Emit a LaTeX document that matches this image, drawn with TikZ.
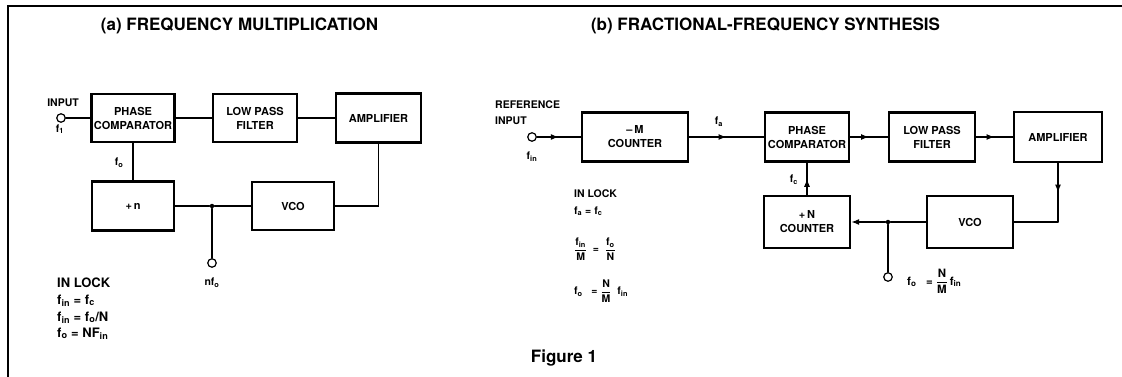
\documentclass[tikz,border=0pt]{standalone}
\usepackage{fontspec}
\setmainfont{TeX Gyre Heros}
\usepackage{amsmath}
\usetikzlibrary{arrows.meta,decorations.markings}
\tikzset{
  blocknode/.style={draw,line width=2.4pt,inner sep=0pt,align=center,font=\fontsize{11}{14}\selectfont\bfseries},
  termnode/.style={circle,draw,fill=white,line width=1.2pt,minimum size=8.5pt,inner sep=0pt},
  dotnode/.style={circle,fill,minimum size=4.5pt,inner sep=0pt},
  labelnode/.style={font=\fontsize{10.5}{16}\selectfont\bfseries,inner sep=0pt},
  locknode/.style={font=\fontsize{13}{16}\selectfont\bfseries,inner sep=0pt,anchor=base west},
  smalllock/.style={font=\fontsize{10.5}{14}\selectfont\bfseries,inner sep=0pt,anchor=base west},
  titlenode/.style={font=\fontsize{17}{20}\selectfont\bfseries,inner sep=0pt},
  wire/.style={line width=1.2pt},
  tip/.style={-{Latex[length=8pt,width=6pt]}},
  midarrow/.style={postaction={decorate},decoration={markings,mark=at position 0.5 with {\arrow{Latex[length=8pt,width=6pt]}}}},
  every picture/.style={line cap=round}
}

\begin{document}
\begin{tikzpicture}[x=1pt,y=-1pt]
  \useasboundingbox (0,0) rectangle (1122,377);
  \draw[line width=1.6pt] (1122,6) -- (8,6) -- (8,377);

  \node[titlenode] (titlea) at (239.5,26) {(a) FREQUENCY MULTIPLICATION};
  \node[blocknode,minimum width=83pt,minimum height=48pt] (pca) at (133,118) {PHASE\\COMPARATOR};
  \node[blocknode,minimum width=84pt,minimum height=48pt] (lpfa) at (255,118) {LOW PASS\\FILTER};
  \node[blocknode,minimum width=85pt,minimum height=49pt] (ampa) at (378.5,118) {AMPLIFIER};
  \node[blocknode,minimum width=82pt,minimum height=49pt] (diva) at (133,206) {+\,n};
  \node[blocknode,minimum width=82pt,minimum height=48pt] (vcoa) at (293,206) {VCO};
  \node[termnode] (ina) at (61,118) {};
  \node[labelnode] (inlabela) at (63,103) {INPUT};
  \node[labelnode] (f1a) at (60,129) {f\textsubscript{1}};
  \node[labelnode] (foa) at (119,163) {f\textsubscript{o}};
  \node[dotnode] (jna) at (212,206) {};
  \node[termnode] (outa) at (212,263) {};
  \node[labelnode] (nfoa) at (212,283) {nf\textsubscript{o}};
  \node[locknode] (locka) at (57,287) {IN LOCK};
  \node[locknode] (locka1) at (57,304) {f\textsubscript{in} = f\textsubscript{c}};
  \node[locknode] (locka2) at (57,321) {f\textsubscript{in} = f\textsubscript{o}/N};
  \node[locknode] (locka3) at (57,337) {f\textsubscript{o} = NF\textsubscript{in}};

  \draw[wire] (ina) -- (pca);
  \draw[wire] (pca) -- (lpfa);
  \draw[wire] (lpfa) -- (ampa);
  \draw[wire] (ampa.south) |- (vcoa.east);
  \draw[wire] (vcoa) -- (jna) -- (diva);
  \draw[wire] (jna) -- (outa);
  \draw[wire] (pca) -- (diva);

  \node[titlenode] (titleb) at (765.5,26) {(b) FRACTIONAL-FREQUENCY SYNTHESIS};
  \node[blocknode,minimum width=106pt,minimum height=49pt] (mcnt) at (635,137) {--\,M\\COUNTER};
  \node[blocknode,minimum width=84pt,minimum height=49pt] (pcb) at (807,137) {PHASE\\COMPARATOR};
  \node[blocknode,minimum width=86pt,minimum height=49pt] (lpfb) at (932,137) {LOW PASS\\FILTER};
  \node[blocknode,minimum width=88pt,minimum height=50pt] (ampb) at (1058,137) {AMPLIFIER};
  \node[blocknode,minimum width=86pt,minimum height=52pt] (vcob) at (970,222) {VCO};
  \node[blocknode,minimum width=86pt,minimum height=52pt] (ncnt) at (807,222) {+\,N\\COUNTER};
  \node[termnode] (inb) at (532,137) {};
  \node[labelnode,align=left,anchor=west] (reflabel) at (495,113) {REFERENCE\\INPUT};
  \node[labelnode] (finb) at (532,157) {f\textsubscript{in}};
  \node[labelnode] (fab) at (719,122) {f\textsubscript{a}};
  \node[labelnode] (fcb) at (794,180) {f\textsubscript{c}};
  \node[dotnode] (jnb) at (888,222) {};
  \node[termnode] (outb) at (888,277) {};
  \node[labelnode,anchor=west,font=\fontsize{11.5}{14}\selectfont\bfseries] (outlabelb) at (907,281) {f\textsubscript{o}\ \ \ = $\dfrac{\text{N}}{\text{M}}$\,f\textsubscript{in}};
  \node[smalllock] (lockb) at (574,197) {IN LOCK};
  \node[smalllock] (lockb1) at (574,214) {f\textsubscript{a} = f\textsubscript{c}};
  \node[smalllock,anchor=west] (lockb2) at (574,249) {$\dfrac{\text{f\textsubscript{in}}}{\text{M}}$\ \ =\ \ $\dfrac{\text{f\textsubscript{o}}}{\text{N}}$};
  \node[smalllock,anchor=west] (lockb3) at (574,291) {f\textsubscript{o}\ \ \ = $\dfrac{\text{N}}{\text{M}}$\ \ f\textsubscript{in}};
  \coordinate (ampturn) at (ampb.south |- vcob.east);

  \draw[wire,midarrow] (inb) -- (mcnt);
  \draw[wire,midarrow] (mcnt) -- (pcb);
  \draw[wire,midarrow] (pcb) -- (lpfb);
  \draw[wire,midarrow] (lpfb) -- (ampb);
  \draw[wire,midarrow] (ampb) -- (ampturn);
  \draw[wire] (ampturn) -- (vcob);
  \draw[wire] (vcob) -- (jnb);
  \draw[wire,tip] (jnb) -- (ncnt);
  \draw[wire] (jnb) -- (outb);
  \draw[wire,midarrow] (ncnt) -- (pcb);

  \node[font=\fontsize{17}{20}\selectfont\bfseries,inner sep=0pt] (figcap) at (564,358) {Figure 1};
\end{tikzpicture}
\end{document}
